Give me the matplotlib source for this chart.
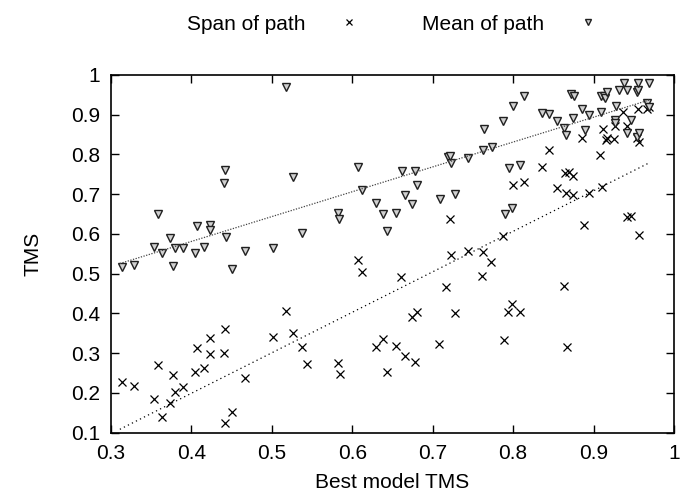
import numpy as np
import matplotlib
matplotlib.use("Agg")
import matplotlib.pyplot as plt

plt.rcParams['font.family'] = ['Liberation Sans', 'DejaVu Sans']

# Span of path (x = best model TMS, y = TMS)
span_x = [0.314, 0.329, 0.359, 0.353, 0.363, 0.373, 0.377, 0.379, 0.389, 0.407,
          0.405, 0.416, 0.423, 0.423, 0.442, 0.441, 0.442, 0.450, 0.467, 0.502,
          0.517, 0.526, 0.537, 0.544, 0.582, 0.585, 0.607, 0.612, 0.630, 0.638,
          0.643, 0.654, 0.661, 0.665, 0.678, 0.674, 0.680, 0.708, 0.717, 0.721,
          0.728, 0.723, 0.744, 0.763, 0.773, 0.761, 0.787, 0.789, 0.794, 0.798,
          0.808, 0.800, 0.814, 0.836, 0.844, 0.855, 0.863, 0.867, 0.865, 0.869,
          0.874, 0.866, 0.874, 0.886, 0.888, 0.894, 0.908, 0.910, 0.912, 0.917,
          0.915, 0.926, 0.927, 0.936, 0.942, 0.942, 0.947, 0.955, 0.956, 0.956,
          0.954, 0.966, 0.969]
span_y = [0.228, 0.217, 0.270, 0.185, 0.140, 0.174, 0.245, 0.203, 0.216, 0.314,
          0.253, 0.262, 0.337, 0.297, 0.361, 0.301, 0.125, 0.153, 0.237, 0.342,
          0.405, 0.352, 0.315, 0.273, 0.275, 0.247, 0.534, 0.505, 0.315, 0.336,
          0.253, 0.318, 0.492, 0.293, 0.279, 0.392, 0.404, 0.323, 0.466, 0.637,
          0.400, 0.546, 0.558, 0.555, 0.530, 0.495, 0.595, 0.333, 0.403, 0.423,
          0.403, 0.723, 0.732, 0.768, 0.812, 0.715, 0.469, 0.316, 0.754, 0.757,
          0.746, 0.704, 0.698, 0.841, 0.623, 0.702, 0.799, 0.717, 0.863, 0.841,
          0.836, 0.838, 0.872, 0.908, 0.872, 0.642, 0.646, 0.914, 0.597, 0.832,
          0.841, 0.914, 0.920]

# Mean of path
mean_x = [0.314, 0.329, 0.353, 0.359, 0.363, 0.374, 0.377, 0.379, 0.390, 0.405,
          0.407, 0.416, 0.423, 0.423, 0.441, 0.442, 0.443, 0.450, 0.467, 0.502,
          0.517, 0.526, 0.537, 0.582, 0.584, 0.607, 0.612, 0.630, 0.638, 0.643,
          0.654, 0.662, 0.665, 0.674, 0.678, 0.681, 0.709, 0.719, 0.723, 0.721,
          0.728, 0.744, 0.762, 0.764, 0.774, 0.787, 0.790, 0.799, 0.795, 0.808,
          0.800, 0.814, 0.836, 0.845, 0.855, 0.863, 0.866, 0.872, 0.876, 0.874,
          0.886, 0.889, 0.894, 0.909, 0.909, 0.913, 0.914, 0.917, 0.927, 0.927,
          0.928, 0.932, 0.938, 0.942, 0.942, 0.947, 0.954, 0.955, 0.955, 0.954,
          0.956, 0.966, 0.969, 0.969]
mean_y = [0.516, 0.522, 0.568, 0.650, 0.551, 0.589, 0.519, 0.564, 0.564, 0.551,
          0.620, 0.566, 0.622, 0.610, 0.727, 0.761, 0.592, 0.512, 0.557, 0.565,
          0.971, 0.743, 0.603, 0.652, 0.637, 0.769, 0.711, 0.677, 0.649, 0.607,
          0.654, 0.759, 0.698, 0.675, 0.758, 0.723, 0.689, 0.794, 0.778, 0.797,
          0.701, 0.790, 0.811, 0.865, 0.820, 0.884, 0.650, 0.665, 0.765, 0.774,
          0.922, 0.947, 0.904, 0.902, 0.885, 0.866, 0.849, 0.951, 0.947, 0.891,
          0.914, 0.862, 0.899, 0.908, 0.947, 0.947, 0.941, 0.956, 0.888, 0.878,
          0.922, 0.962, 0.981, 0.962, 0.853, 0.887, 0.956, 0.962, 0.979, 0.845,
          0.855, 0.929, 0.920, 0.979]

x_ticks = [0.3, 0.4, 0.5, 0.6, 0.7, 0.8, 0.9, 1.0]
x_labels = ['0.3', '0.4', '0.5', '0.6', '0.7', '0.8', '0.9', '1']
y_ticks = [0.1, 0.2, 0.3, 0.4, 0.5, 0.6, 0.7, 0.8, 0.9, 1.0]
y_labels = ['0.1', '0.2', '0.3', '0.4', '0.5', '0.6', '0.7', '0.8', '0.9', '1']

fig = plt.figure(figsize=(6.8, 4.95), dpi=100)
ax = fig.add_axes([0.1632, 0.1259, 0.8280, 0.7226])

ax.plot(span_x, span_y, linestyle='none', marker='x', color='black',
        markersize=5.5, markeredgewidth=0.9, label='Span of path')
ax.plot(mean_x, mean_y, linestyle='none', marker='v', markerfacecolor='#d0d0d0',
        markeredgecolor='#202020', markersize=5.5, markeredgewidth=1.0,
        label='Mean of path')

# linear fits
sx = np.array(span_x)
mx = np.array(mean_x)
span_fit = np.polyfit(sx, np.array(span_y), 1)
mean_fit = np.polyfit(mx, np.array(mean_y), 1)
fx = np.array([min(sx.min(), mx.min()) - 0.003, max(sx.max(), mx.max())])
ax.plot(fx, np.polyval(mean_fit, fx), color='#444444', linewidth=0.9,
        dashes=(1, 1.2))
ax.plot(fx, np.polyval(span_fit, fx), color='black', linewidth=0.9,
        dashes=(1, 2.6))

ax.set_xlim(0.3, 1.0)
ax.set_ylim(0.1, 1.0)
ax.set_xticks(x_ticks)
ax.set_xticklabels(x_labels)
ax.set_yticks(y_ticks)
ax.set_yticklabels(y_labels)
ax.tick_params(direction='in', length=6, width=1, top=True, right=True,
               labelsize=15, pad=8)
for s in ax.spines.values():
    s.set_linewidth(1.2)

ax.set_xlabel('Best model TMS', fontsize=15, labelpad=7)
ax.set_ylabel('TMS', fontsize=15, labelpad=20)

ax.legend(loc='center', bbox_to_anchor=(0.5, 1.142), ncol=2,
          frameon=False, markerfirst=False, fontsize=15, markerscale=0.8,
          handlelength=1.0, handletextpad=1.6, columnspacing=3.0,
          borderaxespad=0)

fig.savefig('out.png', dpi=100)
